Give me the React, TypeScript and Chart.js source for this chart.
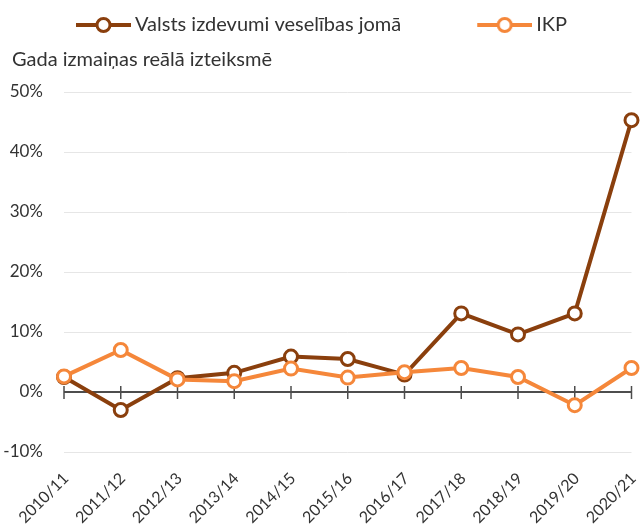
import React, { useEffect, useRef } from 'react';
import { Chart, registerables } from 'chart.js';

Chart.register(...registerables);

const categories = ['2010/11', '2011/12', '2012/13', '2013/14', '2014/15', '2015/16', '2016/17', '2017/18', '2018/19', '2019/20', '2020/21'];
const healthSpending = [2.5, -3.0, 2.3, 3.2, 5.9, 5.5, 2.9, 13.1, 9.6, 13.1, 45.3];
const gdpGrowth = [2.6, 7.0, 2.1, 1.8, 3.9, 2.4, 3.3, 4.0, 2.5, -2.2, 4.0];
const yTicks = [-10, 0, 10, 20, 30, 40, 50];
const yTickLabels = ['-10%', '0%', '10%', '20%', '30%', '40%', '50%'];
const seriesNames = ['Valsts izdevumi veselības jomā', 'IKP'];
const axisCaption = 'Gada izmaiņas reālā izteiksmē';

const DARK = '#8a3f0d';
const ORANGE = '#f5873a';
const FONT = 'Lato';
const BOX_W = 113;
const EXT = 6;

function makeLegendIcon(color: string): HTMLCanvasElement {
  const w = BOX_W + EXT * 2;
  const h = 20;
  const c = document.createElement('canvas');
  c.width = w;
  c.height = h;
  const ctx = c.getContext('2d')!;
  ctx.strokeStyle = color;
  ctx.lineWidth = 4;
  ctx.beginPath();
  ctx.moveTo(w - 55, h / 2);
  ctx.lineTo(w, h / 2);
  ctx.stroke();
  ctx.beginPath();
  ctx.arc(w - 27.5, h / 2, 6.5, 0, Math.PI * 2);
  ctx.fillStyle = '#ffffff';
  ctx.fill();
  ctx.lineWidth = 3;
  ctx.stroke();
  return c;
}

const zeroTicksPlugin = {
  id: 'zeroTicks',
  beforeDraw(chart: any) {
    // indent the caption (title block) to line up with the tick labels
    const tb = chart.titleBlock;
    if (tb) {
      tb.left = 12;
    }
  },
  beforeDatasetsDraw(chart: any) {
    const xs = chart.scales.x;
    const ys = chart.scales.y;
    const y0 = ys.getPixelForValue(0);
    const ctx = chart.ctx;
    ctx.save();
    ctx.strokeStyle = '#4d4d4d';
    ctx.lineWidth = 1.5;
    categories.forEach((_, i) => {
      const px = xs.getPixelForValue(i);
      ctx.beginPath();
      ctx.moveTo(px, y0 - 6);
      ctx.lineTo(px, y0 + 7);
      ctx.stroke();
    });
    ctx.restore();
  },
};

export default function App() {
  const ref = useRef<HTMLCanvasElement>(null);

  useEffect(() => {
    if (!ref.current) return;
    const icons = [makeLegendIcon(DARK), makeLegendIcon(ORANGE)];
    const chart = new Chart(ref.current, {
      type: 'line',
      data: {
        labels: categories,
        datasets: [
          {
            label: seriesNames[0],
            data: healthSpending,
            borderColor: DARK,
            backgroundColor: '#ffffff',
            borderWidth: 4,
            pointRadius: 6.5,
            pointBorderWidth: 3,
            pointBackgroundColor: '#ffffff',
            pointBorderColor: DARK,
            tension: 0,
            clip: false as any,
            order: 1,
          },
          {
            label: seriesNames[1],
            data: gdpGrowth,
            borderColor: ORANGE,
            backgroundColor: '#ffffff',
            borderWidth: 4,
            pointRadius: 6.5,
            pointBorderWidth: 3,
            pointBackgroundColor: '#ffffff',
            pointBorderColor: ORANGE,
            tension: 0,
            clip: false as any,
            order: 0,
          },
        ],
      },
      options: {
        animation: false,
        responsive: false,
        events: [],
        layout: { padding: { left: 0, right: 5, top: 3, bottom: 0 } },
        font: { family: FONT },
        plugins: {
          tooltip: { enabled: false },
          legend: {
            position: 'top',
            align: 'start',
            weight: 3000,
            labels: {
              usePointStyle: true,
              pointStyleWidth: BOX_W,
              padding: 12,
              color: '#333333',
              font: { family: FONT, size: 20 },
              sort: (a: any, b: any) => a.datasetIndex - b.datasetIndex,
              generateLabels: (ch: any) => {
                const items = (Chart.defaults.plugins.legend.labels as any).generateLabels(ch);
                return items.map((it: any) => ({ ...it, pointStyle: icons[it.datasetIndex] }));
              },
            },
          } as any,
          title: {
            display: true,
            text: axisCaption,
            align: 'start',
            color: '#333333',
            font: { family: FONT, size: 20, weight: 'normal' },
            padding: { top: 3, bottom: 20 },
          },
        },
        scales: {
          x: {
            type: 'category',
            offset: false,
            grid: { display: false, drawTicks: false },
            border: { display: false },
            ticks: {
              color: '#333333',
              font: { family: FONT, size: 16 },
              maxRotation: 45,
              minRotation: 45,
              padding: 17,
              labelOffset: 2,
              autoSkip: false,
            },
            afterFit: (axis: any) => {
              axis.height = 74;
              axis.paddingLeft = 0;
              axis.paddingRight = 0;
            },
          },
          y: {
            min: -10,
            max: 50,
            border: { display: false },
            afterBuildTicks: (axis: any) => {
              axis.ticks = yTicks.map((v) => ({ value: v }));
            },
            afterFit: (axis: any) => {
              axis.width = 64;
            },
            grid: {
              drawTicks: false,
              color: (c: any) => (c.tick && c.tick.value === 0 ? '#4d4d4d' : '#e6e6e6'),
              lineWidth: (c: any) => (c.tick && c.tick.value === 0 ? 2 : 1),
            },
            ticks: {
              color: '#333333',
              font: { family: FONT, size: 17 },
              padding: 21,
              callback: (v: any) => {
                const i = yTicks.indexOf(Number(v));
                return i >= 0 ? yTickLabels[i] : `${v}%`;
              },
            },
          },
        },
      },
      plugins: [zeroTicksPlugin],
    });
    return () => chart.destroy();
  }, []);

  return (
    <div style={{ position: 'absolute', left: 0, top: 0, width: 641, height: 526, background: '#ffffff' }}>
      <canvas ref={ref} width={641} height={526} style={{ width: 641, height: 526, display: 'block' }} />
    </div>
  );
}
